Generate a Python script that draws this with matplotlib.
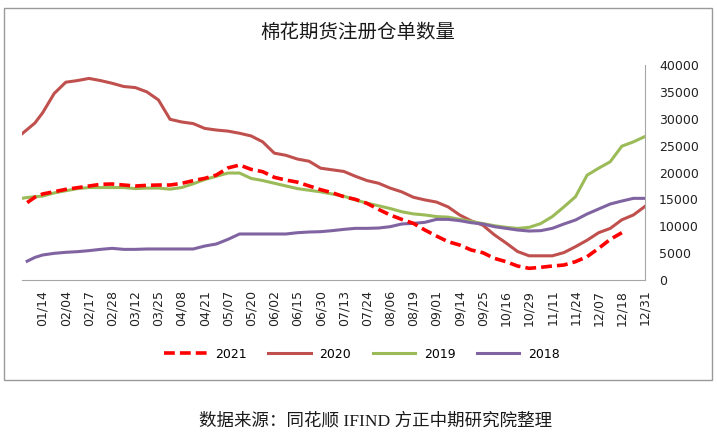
import matplotlib.pyplot as plt
import numpy as np
from matplotlib.patches import Rectangle

plt.rcParams['font.family'] = ['DejaVu Sans', 'Noto Sans CJK SC']

# trading-day positions of the sampled points (0 = first trading day)
pos = [0, 2, 5, 8, 12.5, 17, 21.5, 26, 30.5, 35, 39.5, 44, 48.5, 53, 57.5, 62, 66.5,
       71, 75.5, 80, 84.5, 89, 93.5, 98, 102.5, 107, 111.5, 116, 120.5, 125, 129.5,
       134, 138.5, 143, 147.5, 152, 156.5, 161, 165.5, 170, 174.5, 179, 183.5, 188,
       192.5, 197, 201.5, 206, 210.5, 215, 219.5, 224, 228.5, 233, 237.5, 242]

tick_labels = ['01/14', '02/04', '02/17', '02/28', '03/12', '03/25', '04/08', '04/21',
               '05/07', '05/20', '06/02', '06/15', '06/30', '07/13', '07/24', '08/06',
               '08/19', '09/01', '09/14', '09/25', '10/16', '10/29', '11/11', '11/24',
               '12/07', '12/18', '12/31']
tick_pos = [8 + 9 * i for i in range(len(tick_labels))]

nan = np.nan
y2021 = [nan, 14400, 15400, 16000, 16430, 16860, 17170, 17480, 17800, 17860, 17670,
         17480, 17610, 17670, 17670, 17980, 18480, 18910, 19530, 20850, 21390, 20580,
         20150, 19100, 18600, 18200, 17500, 16800, 16240, 15500, 15000, 14260, 13140,
         12090, 11280, 10540, 9300, 8180, 7130, 6510, 5580, 5080, 4030, 3410, 2600,
         2170, 2360, 2600, 2790, 3410, 4340, 5890, 7560, 8800, nan, nan]
y2020 = [27200, 28000, 29200, 31100, 34700, 36800, 37100, 37500, 37100, 36600, 36000,
         35800, 35000, 33500, 29900, 29400, 29100, 28200, 27900, 27700, 27300, 26800,
         25700, 23600, 23200, 22500, 22100, 20800, 20500, 20200, 19300, 18500, 18000,
         17100, 16400, 15400, 14900, 14500, 13600, 12100, 11000, 10200, 8400, 6900,
         5300, 4500, 4500, 4500, 5100, 6200, 7400, 8800, 9600, 11200, 12100, 13700]
y2019 = [15200, 15350, 15500, 15600, 16200, 16600, 17000, 17200, 17200, 17200, 17200,
         17000, 17100, 17100, 16900, 17200, 17900, 18700, 19300, 19900, 19900, 18900,
         18500, 18000, 17500, 17000, 16700, 16400, 16000, 15600, 14900, 14300, 13800,
         13300, 12700, 12300, 12100, 11800, 11700, 11300, 10900, 10500, 10100, 9800,
         9600, 9800, 10500, 11800, 13600, 15500, 19500, 20800, 22000, 24900, 25700, 26700]
y2018 = [nan, 3500, 4200, 4650, 4960, 5150, 5270, 5460, 5700, 5890, 5700, 5700, 5770,
         5770, 5770, 5770, 5770, 6320, 6700, 7560, 8560, 8560, 8560, 8560, 8560, 8800,
         8930, 8990, 9180, 9420, 9610, 9610, 9670, 9920, 10420, 10540, 10730, 11280,
         11280, 11040, 10660, 10420, 9920, 9610, 9300, 9110, 9180, 9610, 10420, 11160,
         12280, 13210, 14140, 14690, 15190, 15190]

fig = plt.figure(figsize=(7.17, 4.43), dpi=100)
ax = fig.add_axes([22 / 717, 1 - 280 / 443, 623 / 717, 215 / 443])

ax.plot(pos, y2020, color='#C0504D', lw=2.2, label='2020', zorder=3)
ax.plot(pos, y2019, color='#9BBB59', lw=2.2, label='2019', zorder=3)
ax.plot(pos, y2018, color='#8064A2', lw=2.2, label='2018', zorder=4)
ax.plot(pos, y2021, color='#FF0000', lw=2.6, ls=(0, (3, 1.4)), label='2021', zorder=5)

ax.set_xlim(0, 242)
ax.set_ylim(0, 40000)
ax.set_yticks(range(0, 40001, 5000))
ax.yaxis.tick_right()
ax.tick_params(axis='y', length=0, pad=10, labelsize=9, labelcolor='#222222')
ax.set_xticks(tick_pos)
ax.set_xticklabels(tick_labels, rotation=90)
ax.tick_params(axis='x', length=0, pad=7, labelsize=9, labelcolor='#222222')

for side in ['top', 'left']:
    ax.spines[side].set_visible(False)
ax.spines['bottom'].set_color('#A6A6A6')
ax.spines['right'].set_color('#A6A6A6')

handles, labels = ax.get_legend_handles_labels()
order = [3, 0, 1, 2]
fig.legend([handles[i] for i in order], [labels[i] for i in order],
           loc='center', bbox_to_anchor=(362 / 717, 1 - 354 / 443), ncol=4,
           frameon=False, fontsize=9, handlelength=3.4, handletextpad=0.7,
           columnspacing=1.7)

fig.text(358 / 717, 1 - 33 / 443, '棉花期货注册仓单数量', ha='center', va='center',
         fontsize=14, color='#1a1a1a', family=['Noto Sans CJK SC'])
fig.text(376 / 717, 1 - 421 / 443, '数据来源：同花顺 IFIND 方正中期研究院整理',
         ha='center', va='center', fontsize=12.6, color='#1a1a1a',
         family=['Liberation Serif', 'Noto Sans CJK SC'])

fig.patches.append(Rectangle((4 / 717, 1 - 380 / 443), 708 / 717, 372 / 443,
                             transform=fig.transFigure, fill=False,
                             edgecolor='#9A9A9A', lw=1))

fig.savefig('out.png', dpi=100)
